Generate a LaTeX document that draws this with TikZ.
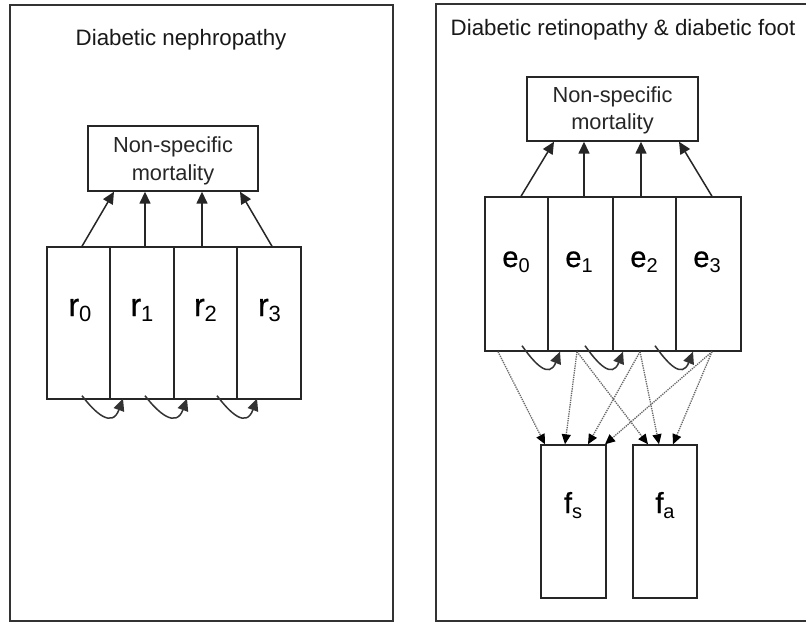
\documentclass[tikz,border=0pt]{standalone}
\usepackage{fontspec}
\setmainfont{Liberation Sans}
\newfontfamily\labfont{Liberation Sans}[FakeBold=0.7]
\usetikzlibrary{arrows.meta,calc}
\newcommand\sublab[4]{{\labfont\fontsize{#3}{#3}\selectfont #1}\raisebox{-5.5pt}{\fontsize{#4}{#4}\selectfont #2}}
\tikzset{
  bighead/.tip={Triangle[length=12pt,width=11pt]},
  smallhead/.tip={Triangle[length=10pt,width=9pt,color=black]}
}
\begin{document}
\begin{tikzpicture}[x=1pt,y=-1pt,
  frame/.style={line width=1.6pt,draw=black!80},
  cell/.style={draw=black!85,line width=1.4pt,inner sep=0pt,minimum width=#1,minimum height=152pt},
  mbox/.style={draw=black!85,line width=1.4pt,inner sep=0pt},
  ttl/.style={anchor=base west,inner sep=0pt,font=\fontsize{22.3}{26}\selectfont,text=black!90},
  mtxt/.style={anchor=base,inner sep=0pt,font=\fontsize{21.8}{26}\selectfont,text=black!85},
  lab/.style={anchor=base,inner sep=0pt},
  up/.style={line width=1.5pt,draw=black!85,arrows={-bighead}},
  loopar/.style={line width=1.5pt,draw=black!80,arrows={-bighead}},
  dots/.style={line width=1.3pt,draw=black!60,dash pattern=on 1.3pt off 1pt,
     arrows={-smallhead}}
]
\useasboundingbox[fill=white] (0,0) rectangle (806,623);

% ---------- left panel ----------
\draw[frame] (10,5) rectangle (393,621);
\node[ttl] (tl) at (75.5,46) {Diabetic nephropathy};

\node[mbox,minimum width=170pt,minimum height=65pt] (mL) at (173,158.5) {};
\node[mtxt] (mL1) at (173,153) {Non-specific};
\node[mtxt] (mL2) at (173,181) {mortality};

\node[cell=63pt] (r0) at (78.5,323) {};
\node[cell=64pt] (r1) at (142,323) {};
\node[cell=63pt] (r2) at (205.5,323) {};
\node[cell=64pt] (r3) at (269,323) {};
\node[lab] (r0l) at (80,316) {\sublab{r}{0}{32}{22}};
\node[lab] (r1l) at (142,316) {\sublab{r}{1}{32}{22}};
\node[lab] (r2l) at (205.5,316) {\sublab{r}{2}{32}{22}};
\node[lab] (r3l) at (269.5,316) {\sublab{r}{3}{32}{22}};

\draw[up] (82,0 |- r0.north) -- (114,0 |- mL.south);
\draw[up] (145,0 |- r1.north) -- (145,0 |- mL.south);
\draw[up] (202,0 |- r2.north) -- (202,0 |- mL.south);
\draw[up] (272,0 |- r3.north) -- (240,0 |- mL.south);

\draw[loopar] ($(r0.south)+(3.5,-4)$) .. controls +(13,17) and +(-11,30) .. ($(r1.south)+(-19,-1)$);
\draw[loopar] ($(r1.south)+(3,-4)$) .. controls +(13,17) and +(-11,30) .. ($(r2.south)+(-18.5,-1)$);
\draw[loopar] ($(r2.south)+(11.5,-4)$) .. controls +(13,17) and +(-11,30) .. ($(r3.south)+(-12,-1)$);

% ---------- right panel ----------
\draw[frame] (810,4) -- (436,4) -- (436,621) -- (810,621);
\node[ttl] (tr) at (450.5,36) {Diabetic retinopathy \& diabetic foot};

\node[mbox,minimum width=171pt,minimum height=64pt] (mR) at (612.5,109) {};
\node[mtxt] (mR1) at (612.5,103) {Non-specific};
\node[mtxt] (mR2) at (612.5,130) {mortality};

\node[cell=63pt,minimum height=154pt] (e0) at (516.5,274) {};
\node[cell=65pt,minimum height=154pt] (e1) at (580.5,274) {};
\node[cell=63pt,minimum height=154pt] (e2) at (644.5,274) {};
\node[cell=65pt,minimum height=154pt] (e3) at (708.5,274) {};
\node[lab] (e0l) at (516,267) {\sublab{e}{0}{29}{20}};
\node[lab] (e1l) at (579,267) {\sublab{e}{1}{29}{20}};
\node[lab] (e2l) at (644,267) {\sublab{e}{2}{29}{20}};
\node[lab] (e3l) at (707,267) {\sublab{e}{3}{29}{20}};

\draw[up] (521,0 |- e0.north) -- (554,0 |- mR.south);
\draw[up] (584,0 |- e1.north) -- (584,0 |- mR.south);
\draw[up] (641,0 |- e2.north) -- (641,0 |- mR.south);
\draw[up] (712,0 |- e3.north) -- (679,0 |- mR.south);

\draw[loopar] ($(e0.south)+(5.5,-6)$) .. controls +(12,17) and +(-11,28) .. ($(e1.south)+(-20.5,0)$);
\draw[loopar] ($(e1.south)+(4.5,-6)$) .. controls +(12,17) and +(-11,28) .. ($(e2.south)+(-21.5,0)$);
\draw[loopar] ($(e2.south)+(10.5,-6)$) .. controls +(12,17) and +(-11,28) .. ($(e3.south)+(-15.5,0)$);

\node[cell=65pt,minimum height=153pt] (fs) at (573.5,521.5) {};
\node[cell=64pt,minimum height=153pt] (fa) at (665,521.5) {};
\node[lab] (fsl) at (573,513) {\sublab{f}{s}{29}{20}};
\node[lab] (fal) at (665,513) {\sublab{f}{a}{29}{20}};

\draw[dots] (498,0 |- e0.south) -- (545,0 |- fs.north);
\draw[dots] (577,0 |- e1.south) -- (565,0 |- fs.north);
\draw[dots] (577,0 |- e1.south) -- (648,0 |- fa.north);
\draw[dots] (640,0 |- e2.south) -- (588,0 |- fs.north);
\draw[dots] (640,0 |- e2.south) -- (659,0 |- fa.north);
\draw[dots] (712,0 |- e3.south) -- (605,0 |- fs.north);
\draw[dots] (712,0 |- e3.south) -- (673,0 |- fa.north);
\end{tikzpicture}
\end{document}
